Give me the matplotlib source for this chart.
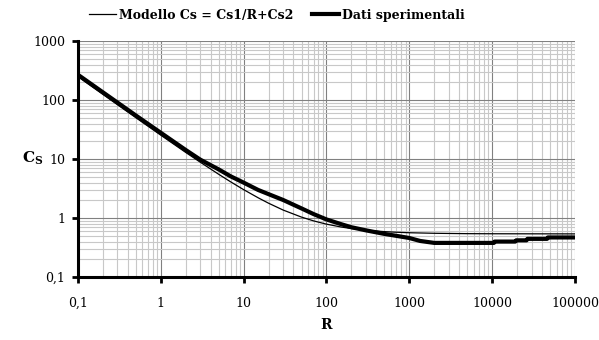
import matplotlib.pyplot as plt
from matplotlib.ticker import FixedLocator, LogLocator, NullFormatter

plt.rcParams['font.family'] = ['DejaVu Serif']
plt.rcParams['mathtext.fontset'] = 'dejavuserif'

# Modello Cs = Cs1/R + Cs2
r_model = [0.1, 0.15, 0.2, 0.3, 0.5, 0.7, 1, 1.5, 2, 3, 5, 7, 10, 15, 20, 30, 50, 70,
           100, 150, 200, 300, 500, 700, 1000, 2000, 5000, 10000, 100000]
cs_model = [250.5, 167.2, 125.5, 83.9, 50.5, 36.3, 25.5, 17.2, 13.0, 8.87, 5.54, 4.11,
            3.04, 2.21, 1.79, 1.37, 1.04, 0.897, 0.79, 0.707, 0.665, 0.623, 0.59, 0.576,
            0.565, 0.553, 0.545, 0.543, 0.54]

# Dati sperimentali
r_exp = [0.1, 0.2, 0.5, 1, 2, 3, 5, 7, 10, 15, 20, 30, 50, 70, 100, 150, 200, 300, 500,
         700, 1000, 1350, 2000, 10500, 10700, 19000, 19500, 26000, 26600, 46000, 47000,
         100000]
cs_exp = [270, 136, 55, 28, 14.3, 9.8, 6.7, 5.1, 4.0, 3.0, 2.55, 2.03, 1.46, 1.17, 0.95,
          0.79, 0.70, 0.62, 0.54, 0.50, 0.46, 0.41, 0.38, 0.38, 0.40, 0.40, 0.42, 0.42,
          0.445, 0.445, 0.47, 0.47]

x_ticks = [0.1, 1, 10, 100, 1000, 10000, 100000]
x_labels = ['0,1', '1', '10', '100', '1000', '10000', '100000']
y_ticks = [0.1, 1, 10, 100, 1000]
y_labels = ['0,1', '1', '10', '100', '1000']

fig = plt.figure(figsize=(5.99, 3.4), dpi=100)
ax = fig.add_axes([0.130, 0.185, 0.830, 0.694])

ax.plot(r_model, cs_model, color='black', lw=0.9, label='Modello Cs = Cs1/R+Cs2', zorder=3)
ax.plot(r_exp, cs_exp, color='black', lw=3.0, label='Dati sperimentali', zorder=4)

ax.set_xscale('log')
ax.set_yscale('log')
ax.set_xlim(0.1, 100000)
ax.set_ylim(0.1, 1000)

ax.xaxis.set_major_locator(FixedLocator(x_ticks))
ax.set_xticklabels(x_labels)
ax.yaxis.set_major_locator(FixedLocator(y_ticks))
ax.set_yticklabels(y_labels)
ax.xaxis.set_minor_locator(LogLocator(base=10, subs=range(2, 10), numticks=20))
ax.yaxis.set_minor_locator(LogLocator(base=10, subs=range(2, 10), numticks=20))
ax.xaxis.set_minor_formatter(NullFormatter())
ax.yaxis.set_minor_formatter(NullFormatter())

ax.grid(which='major', color='#808080', lw=0.8)
ax.grid(which='minor', color='#c8c8c8', lw=0.8)
ax.set_axisbelow(True)

for s in ['top', 'right']:
    ax.spines[s].set_visible(False)
for s in ['left', 'bottom']:
    ax.spines[s].set_linewidth(2.2)

ax.tick_params(which='major', direction='out', length=4, width=2, labelsize=9)
ax.tick_params(axis='x', which='major', pad=10)
ax.tick_params(axis='y', which='major', pad=5)
ax.tick_params(which='minor', length=0)

ax.set_xlabel('R', fontsize=10, fontweight='bold', labelpad=6)
fig.text(0.055, 0.535, r'$\mathbf{C_S}$', fontsize=11, ha='center', va='center')

leg = ax.legend(loc='center', bbox_to_anchor=(0.40, 1.11), ncol=2, frameon=False,
                prop={'size': 9, 'weight': 'bold'}, handlelength=2.2, handletextpad=0.2,
                columnspacing=1.5, borderaxespad=0)

fig.savefig('out.png', dpi=100)
